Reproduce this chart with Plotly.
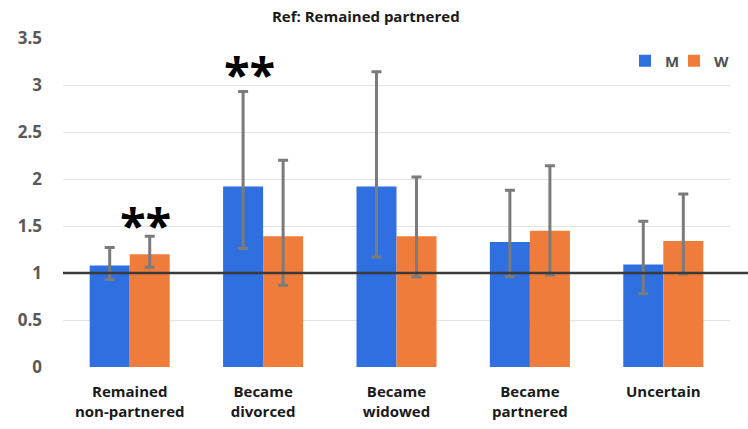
import plotly.graph_objects as go

categories = ["Remained<br>non-partnered", "Became<br>divorced", "Became<br>widowed",
              "Became<br>partnered", "Uncertain"]

men_values = [1.08, 1.92, 1.92, 1.33, 1.09]
men_upper = [1.27, 2.93, 3.14, 1.88, 1.55]
men_lower = [0.93, 1.26, 1.17, 0.96, 0.78]

women_values = [1.20, 1.39, 1.39, 1.45, 1.34]
women_upper = [1.39, 2.20, 2.02, 2.14, 1.84]
women_lower = [1.06, 0.87, 0.96, 0.98, 0.99]

y_ticks = [0, 0.5, 1, 1.5, 2, 2.5, 3, 3.5]
y_tick_labels = ["0", "0.5", "1", "1.5", "2", "2.5", "3", "3.5"]

reference_level = 1.0

BLUE = "#2f6fdf"
ORANGE = "#f07c3c"
ERR = "#7b7b7b"
FONT = "Open Sans"


def err(vals, up, lo):
    return dict(type="data", symmetric=False,
                array=[u - v for u, v in zip(up, vals)],
                arrayminus=[v - l for v, l in zip(vals, lo)],
                color=ERR, thickness=3, width=5)


fig = go.Figure()
fig.add_trace(go.Bar(name="M", x=categories, y=men_values, legend="legend",
                     marker=dict(color=BLUE, line=dict(width=0)),
                     error_y=err(men_values, men_upper, men_lower)))
fig.add_trace(go.Bar(name="W", x=categories, y=women_values, legend="legend2",
                     marker=dict(color=ORANGE, line=dict(width=0)),
                     error_y=err(women_values, women_upper, women_lower)))

# reference line at ratio = 1
fig.add_shape(type="line", xref="paper", yref="y", x0=0, x1=1.03,
              y0=reference_level, y1=reference_level,
              line=dict(color="#3a3a3a", width=2.5), layer="above")

# significance markers
for cx, cy in [(0.12, 1.51), (0.895, 3.12)]:
    fig.add_annotation(x=cx, y=cy, xref="x", yref="y", text="<b>**</b>",
                       showarrow=False, font=dict(family=FONT, size=47, color="#000000"),
                       yanchor="middle", xanchor="center")

legend_style = dict(orientation="h", y=0.93, xanchor="left", yanchor="middle",
                    font=dict(size=15, color="#505050", weight="bold"),
                    itemwidth=30, bgcolor="rgba(0,0,0,0)")

fig.update_layout(
    width=748, height=429,
    margin=dict(l=63, r=18, t=38, b=62, autoexpand=False),
    paper_bgcolor="white", plot_bgcolor="white",
    barmode="group", bargap=0.4, bargroupgap=0,
    font=dict(family=FONT, color="#1a1a1a"),
    title=dict(text="<b>Ref: Remained partnered</b>", x=0.489, xanchor="center",
               y=0.96, yanchor="middle", font=dict(size=15, color="#1a1a1a")),
    legend=dict(x=0.8426, **legend_style),
    legend2=dict(x=0.916, **legend_style),
    showlegend=True,
)
fig.update_xaxes(tickfont=dict(size=15, color="#1a1a1a", family=FONT, weight="bold"),
                 showgrid=False, showline=False, ticks="", range=[-0.5, 4.5],
                 ticklabelstandoff=14, automargin=False)
fig.update_yaxes(range=[0, 3.5], tickvals=y_ticks, ticktext=y_tick_labels,
                 tickfont=dict(size=17, color="#595959", family=FONT, weight="bold"),
                 showgrid=True, gridcolor="#e3e3e3", gridwidth=1,
                 zeroline=False, showline=False, ticks="",
                 ticklabelstandoff=20, automargin=False)

fig.write_html("out.html")
